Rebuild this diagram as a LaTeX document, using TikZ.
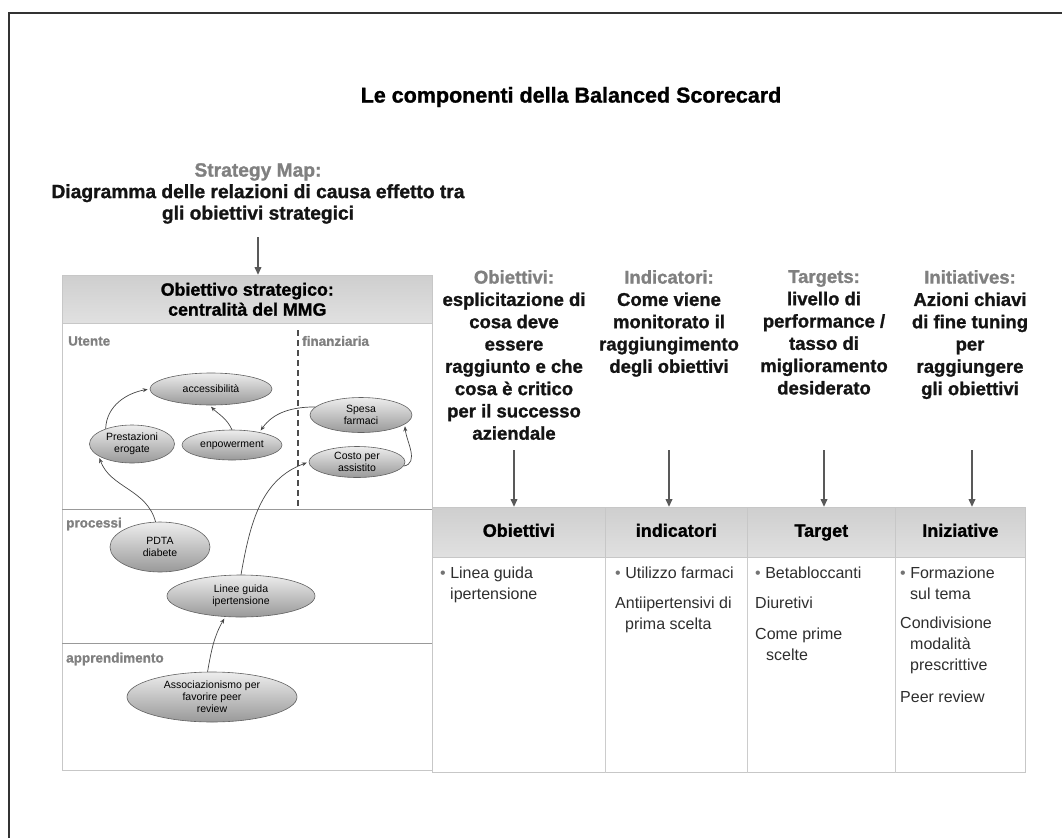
\documentclass[tikz,border=0pt]{standalone}
\usepackage{fontspec}
\setmainfont{Liberation Sans}[BoldFeatures={FakeBold=1.2}]
\usetikzlibrary{arrows.meta,shapes.geometric}
\newcommand\myfs[2]{\fontsize{#1}{#2}\selectfont}
\begin{document}
\begin{tikzpicture}[x=1pt,y=-1pt,
  frameline/.style={draw=black!80,line width=1.6pt},
  panel/.style={draw=black!22,line width=0.8pt,inner sep=0pt},
  hdrbox/.style={draw=black!22,line width=0.6pt,top color=black!19,bottom color=black!12,inner sep=0pt},
  cellhdr/.style={hdrbox,font=\bfseries\myfs{18}{20},text height=13pt,text depth=4pt},
  bodytxt/.style={anchor=north west,inner sep=0pt,align=left,text=black!82,font=\myfs{16}{21}},
  ell/.style={ellipse,draw=black!62,line width=0.6pt,top color=black!7,bottom color=black!40,
              align=center,inner sep=0pt,font=\myfs{10.5}{12}},
  link/.style={draw=black!72,line width=0.7pt,-{Stealth[length=5pt,width=4pt]},shorten >=2pt},
  feed/.style={draw=black!65,line width=2pt,-{Triangle[length=8pt,width=6.5pt]}},
  sect/.style={text=black!50,font=\bfseries\myfs{13.5}{15},anchor=west,inner sep=0pt},
  colhead/.style={anchor=north,inner sep=0pt,align=center,font=\bfseries\myfs{18.5}{22.3},text=black!92},
  sepline/.style={draw=black!40,line width=0.8pt},
  cellsep/.style={draw=black!20,line width=0.8pt},
]
\useasboundingbox (0,0) rectangle (1062,838);

% page frame
\draw[frameline] (9,838) -- (9,13) -- (1062,13);

% title
\node[font=\bfseries\myfs{21.5}{25}] (title) at (571,97) {Le componenti della Balanced Scorecard};

% strategy map caption
\node[colhead,font=\bfseries\myfs{19.2}{21.5}] (smap) at (258,163)
  {{\color{black!50}Strategy Map:}\\Diagramma delle relazioni di causa effetto tra\\gli obiettivi strategici};

% left panel: strategy map
\node[panel,anchor=north west,minimum width=370pt,minimum height=495pt] (pnl) at (62,275) {};
\node[hdrbox,anchor=north west,minimum width=370pt,minimum height=48pt,align=center,
      font=\bfseries\myfs{17.8}{20}] (phdr) at (62,275) {Obiettivo strategico:\\centralità del MMG};

\draw[sepline] (62,509) -- (432,509);
\draw[sepline] (62,643) -- (432,643);
\draw[draw=black!70,line width=1.1pt,dash pattern=on 6pt off 4pt] (298,330) -- (298,508);

\node[sect] (lutente) at (68,341) {Utente};
\node[sect] (lfin) at (302,341) {finanziaria};
\node[sect] (lproc) at (66,524) {processi};
\node[sect] (lappr) at (66,659) {apprendimento};

% objectives
\node[ell,minimum width=122pt,minimum height=32pt] (acc) at (211,389) {accessibilità};
\node[ell,minimum width=85pt,minimum height=38pt] (pre) at (132,444) {Prestazioni\\erogate};
\node[ell,minimum width=100pt,minimum height=30pt] (enp) at (232,445) {enpowerment};
\node[ell,minimum width=102pt,minimum height=35pt] (spe) at (361,415) {Spesa\\farmaci};
\node[ell,minimum width=96pt,minimum height=31pt] (cos) at (357,462) {Costo per\\assistito};
\node[ell,minimum width=100pt,minimum height=50pt] (pdta) at (160,547) {PDTA\\diabete};
\node[ell,minimum width=148pt,minimum height=42pt] (lin) at (241,596) {Linee guida\\ipertensione};
\node[ell,minimum width=170pt,minimum height=50pt] (ass) at (212,697) {Associazionismo per\\favorire peer\\review};

% cause-effect links
\draw[link] (pre.150) to[out=88,in=190] (acc.west);
\draw[link] (enp.north) to[out=115,in=-45] (acc.-95);
\draw[link] (spe.170) to[out=180,in=55] (enp.25);
\draw[link] (cos.-5) to[out=10,in=-85] (spe.-12);
\draw[link] (pdta.100) to[out=105,in=-70] (pre.-160);
\draw[link] (lin.north) to[out=80,in=200] (cos.west);
\draw[link] (ass.100) to[out=80,in=240] (lin.-127);

% strategy map arrow
\coordinate (sa) at (258,237);
\draw[feed] (sa) -- (sa |- phdr.north);

% column captions
\node[colhead] (capA) at (514,270) {{\color{black!50}Obiettivi:}\\esplicitazione di\\cosa deve\\essere\\raggiunto e che\\cosa è critico\\per il successo\\aziendale};
\node[colhead] (capB) at (669,270) {{\color{black!50}Indicatori:}\\Come viene\\monitorato il\\raggiungimento\\degli obiettivi};
\node[colhead] (capC) at (824,270) {{\color{black!50}Targets:}\\livello di\\performance /\\tasso di\\miglioramento\\desiderato};
\node[colhead] (capD) at (970,270) {{\color{black!50}Initiatives:}\\Azioni chiavi\\di fine tuning\\per\\raggiungere\\gli obiettivi};

% scorecard table
\node[panel,anchor=north west,minimum width=593pt,minimum height=265pt] (tbl) at (432,507) {};
\node[cellhdr,anchor=north west,minimum width=173pt,minimum height=50pt] (hA) at (432,507) {Obiettivi};
\node[cellhdr,anchor=north west,minimum width=142pt,minimum height=50pt] (hB) at (605,507) {indicatori};
\node[cellhdr,anchor=north west,minimum width=148pt,minimum height=50pt] (hC) at (747,507) {Target};
\node[cellhdr,anchor=north west,minimum width=130pt,minimum height=50pt] (hD) at (895,507) {Iniziative};
\draw[cellsep] (hB.south west) -- (hB.south west |- tbl.south);
\draw[cellsep] (hC.south west) -- (hC.south west |- tbl.south);
\draw[cellsep] (hD.south west) -- (hD.south west |- tbl.south);

% feeding arrows
\coordinate (fa) at (514,450);
\coordinate (fb) at (669,450);
\coordinate (fc) at (824,450);
\coordinate (fd) at (972,450);
\draw[feed] (fa) -- (fa |- hA.north);
\draw[feed] (fb) -- (fb |- hB.north);
\draw[feed] (fc) -- (fc |- hC.north);
\draw[feed] (fd) -- (fd |- hD.north);

% table contents
\node[bodytxt] (bA) at (440,567) {{\color{black!55}•} Linea guida\\\hspace*{10pt}ipertensione};
\node[bodytxt] (bB) at (615,567) {{\color{black!55}•} Utilizzo farmaci\\[9pt]Antiipertensivi di\\\hspace*{10pt}prima scelta};
\node[bodytxt] (bC) at (755,567) {{\color{black!55}•} Betabloccanti\\[9pt]Diuretivi\\[10pt]Come prime\\\hspace*{11pt}scelte};
\node[bodytxt] (bD) at (900,567) {{\color{black!55}•} Formazione\\\hspace*{10pt}sul tema\\[8pt]Condivisione\\\hspace*{10pt}modalità\\\hspace*{10pt}prescrittive\\[11pt]Peer review};

\end{tikzpicture}
\end{document}
